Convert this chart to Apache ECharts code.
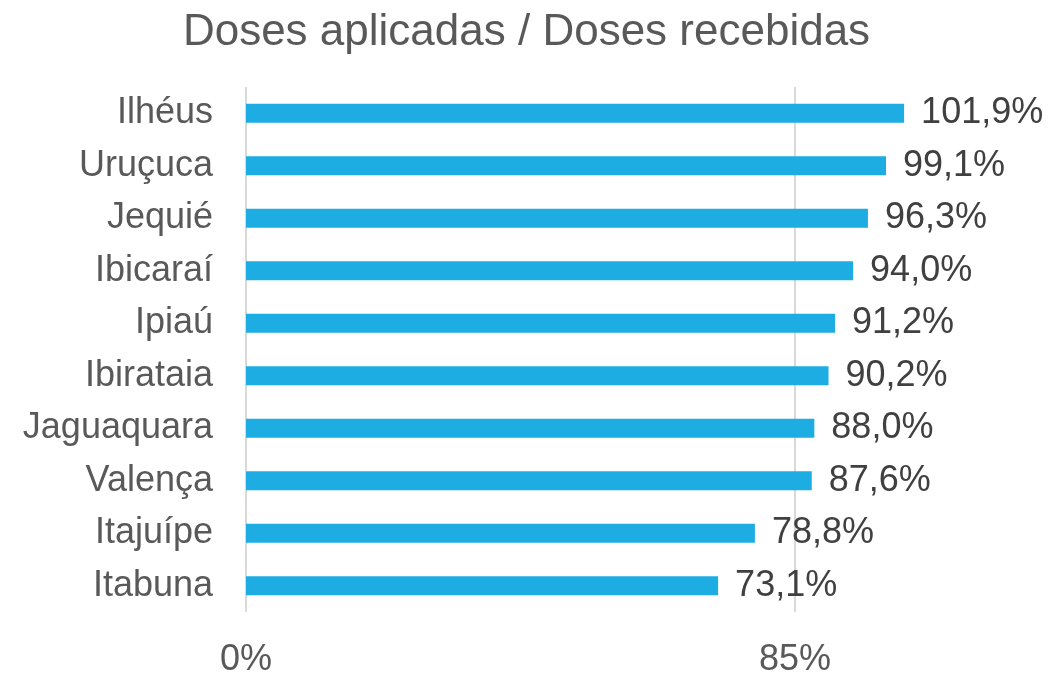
<head>
    <meta charset="utf-8">
    <title>Doses aplicadas / Doses recebidas</title>
    <script src="https://cdn.jsdelivr.net/npm/echarts@6/dist/echarts.min.js"></script>
</head>

<body style="margin:0">
    <div id="main" style="width: 1053px; height: 673px;"></div>

    <script type="text/javascript">
        const cidades = ['Ilhéus', 'Uruçuca', 'Jequié', 'Ibicaraí', 'Ipiaú', 'Ibirataia', 'Jaguaquara', 'Valença', 'Itajuípe', 'Itabuna']
        const percentuais = [101.9, 99.1, 96.3, 94.0, 91.2, 90.2, 88.0, 87.6, 78.8, 73.1]
        const ticks = [0, 85]

        const fonte = '"Liberation Sans", Arial, sans-serif'

        var myChart = echarts.init(document.getElementById('main'));

        option = {
            title: {
                text: 'Doses aplicadas / Doses recebidas',
                left: 'center',
                top: 6,
                textStyle: { fontFamily: fonte, fontSize: 44, fontWeight: 'normal', color: '#595959' }
            },
            grid: {
                left: 246,
                top: 87,
                bottom: 61,
                width: 775,
                outerBoundsMode: 'none'
            },
            xAxis: {
                type: 'value',
                min: 0,
                max: 120,
                interval: 85,
                axisLine: { show: false },
                axisTick: { show: false },
                axisLabel: {
                    margin: 30,
                    showMaxLabel: false,
                    fontFamily: fonte,
                    fontSize: 36,
                    color: '#595959',
                    formatter: v => ticks.includes(v) ? v + '%' : ''
                },
                splitLine: {
                    show: true,
                    showMaxLine: false,
                    lineStyle: { color: '#d9d9d9', width: 2 }
                }
            },
            yAxis: {
                type: 'category',
                inverse: true,
                data: cidades,
                axisLine: { show: false },
                axisTick: { show: false },
                axisLabel: {
                    margin: 33,
                    fontFamily: fonte,
                    fontSize: 36,
                    color: '#595959'
                }
            },
            series: [
                {
                    type: 'bar',
                    data: percentuais,
                    barWidth: 19,
                    itemStyle: { color: '#1eade3' },
                    label: {
                        show: true,
                        position: 'right',
                        distance: 17,
                        fontFamily: fonte,
                        fontSize: 36,
                        color: '#404040',
                        formatter: p => p.value.toFixed(1).replace('.', ',') + '%'
                    }
                }
            ]
        };

        myChart.setOption(option);
    </script>
</body>
